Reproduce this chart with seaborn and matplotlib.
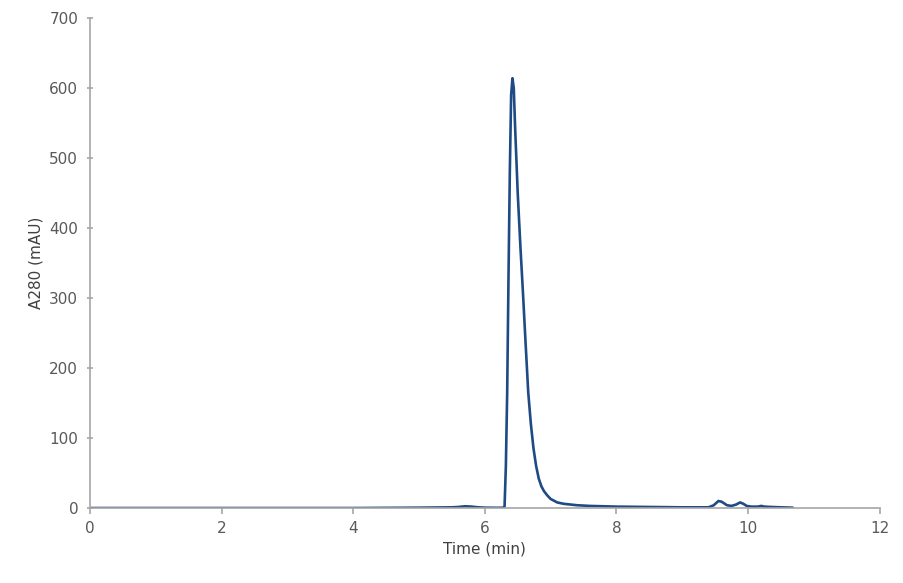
import matplotlib
matplotlib.use("Agg")
import matplotlib.pyplot as plt
import seaborn as sns
import pandas as pd

# Chromatogram trace
time_min = [0.0, 1.0, 2.0, 3.0, 4.0, 5.0, 5.5, 5.6, 5.7, 5.8, 5.9, 6.0, 6.2,
            6.28, 6.30, 6.32, 6.34, 6.36, 6.38, 6.40, 6.42, 6.44, 6.46, 6.50,
            6.54, 6.58, 6.62, 6.66, 6.70, 6.74, 6.78, 6.82, 6.86, 6.90, 6.95,
            7.0, 7.1, 7.2, 7.4, 7.6, 8.0, 8.5, 9.0, 9.4, 9.48, 9.55, 9.6,
            9.68, 9.75, 9.82, 9.88, 9.93, 9.98, 10.05, 10.15, 10.2, 10.25,
            10.35, 10.5, 10.68]
a280_mau = [0.0, 0.0, 0.0, 0.0, 0.0, 0.5, 1.0, 1.5, 2.5, 2.0, 1.0, 0.5, 0.3,
            0.5, 2.0, 60.0, 165.0, 330.0, 480.0, 590.0, 614.0, 600.0, 545.0, 450.0,
            375.0, 307.0, 235.0, 165.0, 120.0, 85.0, 60.0, 42.0, 31.0, 24.0, 18.0,
            13.0, 8.0, 6.0, 4.0, 3.0, 2.0, 1.5, 1.0, 1.0, 4.0, 10.0, 9.0,
            4.0, 3.0, 5.0, 8.0, 6.0, 3.0, 2.0, 2.0, 3.0, 2.0,
            1.5, 1.0, 0.5]

x_ticks = [0, 2, 4, 6, 8, 10, 12]
y_ticks = [0, 100, 200, 300, 400, 500, 600, 700]

df = pd.DataFrame({"time": time_min, "a280": a280_mau})

sns.set_style("white")
plt.rcParams['font.family'] = ['DejaVu Sans']

fig = plt.figure(figsize=(9.04, 5.83), dpi=100)
ax = fig.add_axes([0.0996, 0.1286, 0.8734, 0.8405])

sns.lineplot(data=df, x="time", y="a280", ax=ax, color="#1f4a85",
             linewidth=1.9, sort=False)

ax.set_xlim(0, 12)
ax.set_ylim(0, 700)
ax.set_xticks(x_ticks)
ax.set_yticks(y_ticks)
ax.set_xlabel("Time (min)", fontsize=11, color="#404040")
ax.set_ylabel("A280 (mAU)", fontsize=11, color="#404040")

for side in ["top", "right"]:
    ax.spines[side].set_visible(False)
for side in ["left", "bottom"]:
    ax.spines[side].set_color("#a6a6a6")
    ax.spines[side].set_linewidth(1.2)

ax.tick_params(axis="x", bottom=True, direction="out", length=4,
               width=1.2, color="#a6a6a6",
               labelsize=11, labelcolor="#595959", pad=5)
ax.tick_params(axis="y", left=True, direction="inout", length=5,
               width=1.2, color="#a6a6a6",
               labelsize=11, labelcolor="#595959", pad=6)

fig.savefig("out.png", dpi=100)
